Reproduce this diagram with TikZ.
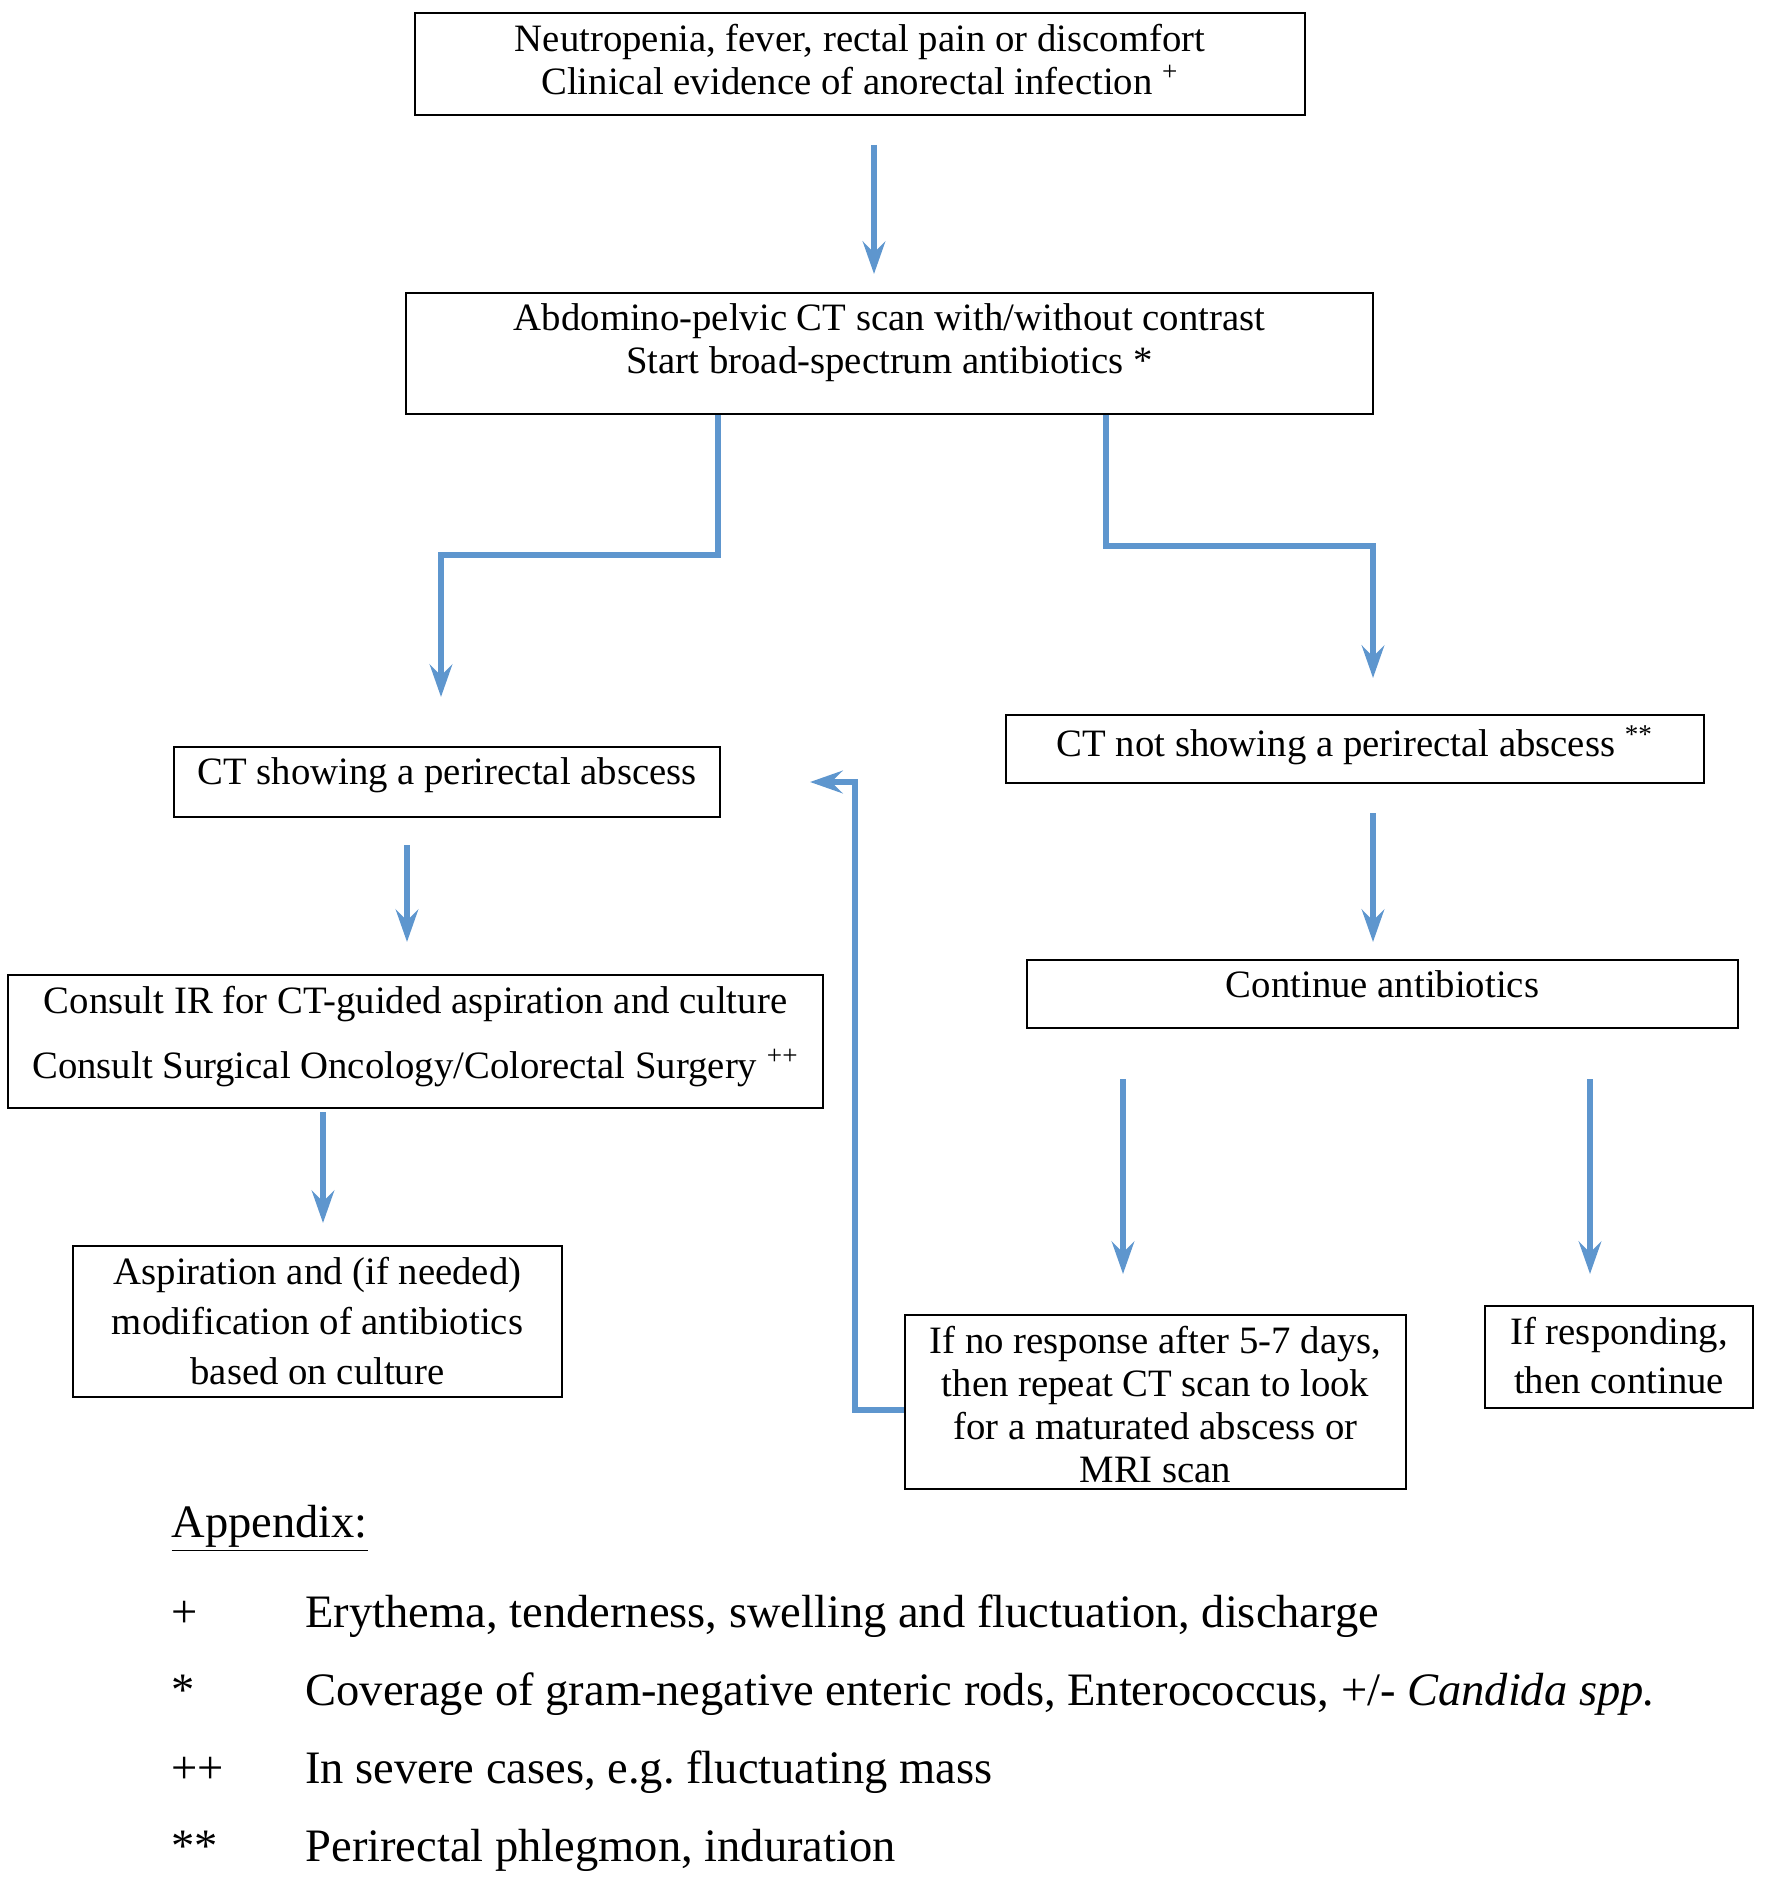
\documentclass[tikz,border=0pt]{standalone}
\usepackage{fontspec}
\setmainfont{Liberation Serif}
\usetikzlibrary{arrows.meta,positioning}
\definecolor{flowblue}{RGB}{94,150,206}

\begin{document}
\begin{tikzpicture}[x=0.4pt,y=-0.4pt,
  box/.style={draw,line width=0.8pt,inner sep=0pt},
  txt/.style={align=center,inner sep=0pt,font=\fontsize{15.5}{17.2}\selectfont},
  flow/.style={draw=flowblue,line width=2.2pt,-{Stealth[length=13pt,width=9pt,inset=4.5pt]}},
  app/.style={anchor=base west,inner sep=0pt,font=\fontsize{18.6}{22}\selectfont}]
\useasboundingbox (0,0) rectangle (1772,1877);
\node[box,minimum width=356pt,minimum height=40.8pt] (b1) at (860,64) {};
\node[box,minimum width=386.8pt,minimum height=48.4pt] (b2) at (889.5,353.5) {};
\node[box,minimum width=218.4pt,minimum height=28pt] (b3) at (447,782) {};
\node[box,minimum width=279.2pt,minimum height=27.2pt] (b4) at (1355,749) {};
\node[box,minimum width=326pt,minimum height=53.2pt] (b5) at (415.5,1041.5) {};
\node[box,minimum width=195.6pt,minimum height=60.4pt] (b6) at (317.5,1321.5) {};
\node[box,minimum width=284.4pt,minimum height=27.2pt] (b7) at (1382.5,994) {};
\node[box,minimum width=200.4pt,minimum height=69.6pt] (b8) at (1155.5,1402) {};
\node[box,minimum width=107.2pt,minimum height=40.8pt] (b9) at (1619,1357) {};

\node[txt,below=4.5pt of b1.north] (t1) {Neutropenia, fever, rectal pain or discomfort\\Clinical evidence of anorectal infection \textsuperscript{+}};
\node[txt,below=4.5pt of b2.north] (t2) {Abdomino-pelvic CT scan with/without contrast\\Start broad-spectrum antibiotics *};
\node[txt,below=4.5pt of b3.north] (t3) {CT showing a perirectal abscess};
\node[txt,below=4.5pt of b4.north] (t4) {CT not showing a perirectal abscess \textsuperscript{**}};
\node[txt,below=4.5pt of b5.north] (t5) {Consult IR for CT-guided aspiration and culture\\[8.8pt]Consult Surgical Oncology/Colorectal Surgery \textsuperscript{++}};
\node[txt,below=4.5pt of b6.north] (t6) {Aspiration and (if needed)\\[2.8pt]modification of antibiotics\\[2.8pt]based on culture};
\node[txt,below=4.5pt of b7.north] (t7) {Continue antibiotics};
\node[txt,below=4.5pt of b8.north] (t8) {If no response after 5-7 days,\\then repeat CT scan to look\\for a maturated abscess or\\MRI scan};
\node[txt,below=4.5pt of b9.north] (t9) {If responding,\\[2.4pt]then continue};

\draw[flow,shorten <=11.6pt,shorten >=7.2pt] ([xshift=5.6pt]b1.south) -- ([xshift=5.6pt]b1.south |- b2.north);
\draw[flow,shorten >=19.6pt] ([xshift=-68.6pt]b2.south) -- ++(0,140) -| ([xshift=-2.4pt]b3.north);
\draw[flow,shorten >=14.4pt] ([xshift=86.6pt]b2.south) -- ++(0,131) -| ([xshift=7.2pt]b4.north);
\draw[flow,shorten <=10.8pt,shorten >=12.8pt] ([xshift=-16pt]b3.south) -- ([xshift=-16pt]b3.south |- b5.north);
\draw[flow,shorten <=1.2pt,shorten >=8.8pt] ([xshift=-37pt]b5.south) -- ([xshift=-37pt]b5.south |- b6.north);
\draw[flow,shorten <=11.6pt,shorten >=6.8pt] ([xshift=7.2pt]b4.south) -- ([xshift=7.2pt]b4.south |- b7.north);
\draw[flow,shorten <=20pt,shorten >=16pt] ([xshift=-13pt]b8.north |- b7.south) -- ([xshift=-13pt]b8.north);
\draw[flow,shorten <=20pt,shorten >=12.4pt] ([xshift=-11.6pt]b9.north |- b7.south) -- ([xshift=-11.6pt]b9.north);
\draw[flow,shorten >=35.6pt] ([yshift=-3.2pt]b8.west) -- ++(-49,0) |- (b3.east);

\node[app] (apx) at (171,1537) {\underline{Appendix:}};
\node[app] (s1) at (171,1627) {+};
\node[app] (n1) at (305,1627) {Erythema, tenderness, swelling and fluctuation, discharge};
\node[app] (s2) at (171,1705) {*};
\node[app] (n2) at (305,1705) {Coverage of gram-negative enteric rods, Enterococcus, +/- \textit{Candida spp.}};
\node[app] (s3) at (171,1783) {++};
\node[app] (n3) at (305,1783) {In severe cases, e.g.\ fluctuating mass};
\node[app] (s4) at (171,1861) {**};
\node[app] (n4) at (305,1861) {Perirectal phlegmon, induration};
\end{tikzpicture}
\end{document}
